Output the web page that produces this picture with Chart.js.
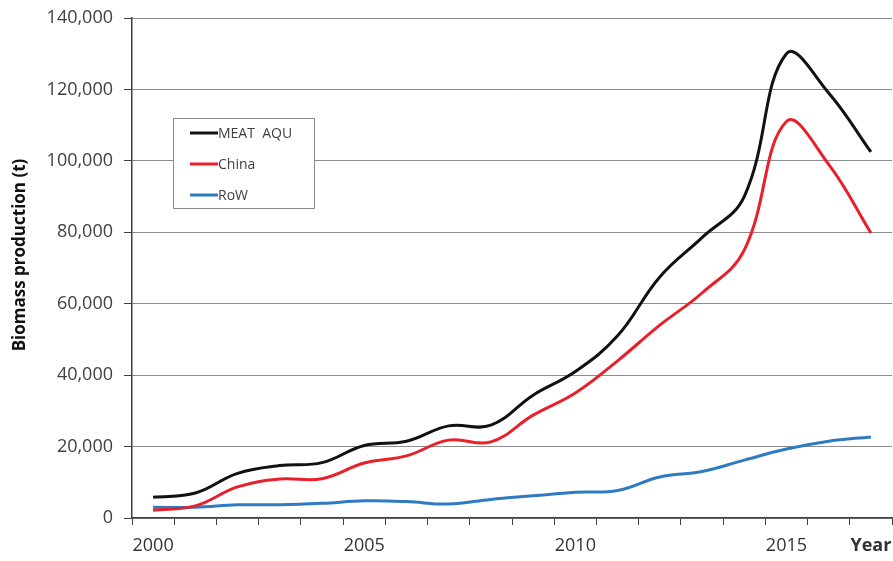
<!DOCTYPE html>
<html>
<head>
<meta charset="utf-8">
<script src="https://cdn.jsdelivr.net/npm/chart.js@4.4.1/dist/chart.umd.min.js"></script>
<style>
  html, body { margin: 0; padding: 0; background: #ffffff; }
  #wrap { width: 893px; height: 561px; position: relative; }
</style>
</head>
<body>
<div id="wrap"><canvas id="c" width="893" height="561"></canvas></div>
<script>
const years = [2000, 2001, 2002, 2003, 2004, 2005, 2006, 2007, 2008, 2009, 2010, 2011, 2012, 2013, 2014, 2015, 2016, 2017];
const xTickLabels = ['2000', '', '', '', '', '2005', '', '', '', '', '2010', '', '', '', '', '2015', '', 'Year'];
const meatAqu = [5800, 7000, 12500, 14700, 15500, 20300, 21500, 25800, 26000, 34400, 41000, 51000, 67500, 78500, 90000, 130000, 119000, 102500];
const china = [2200, 3400, 8700, 10900, 11000, 15400, 17400, 21800, 21300, 28800, 35000, 44000, 54000, 63000, 75000, 111000, 99000, 79800];
const row = [3000, 3000, 3700, 3700, 4100, 4800, 4600, 3900, 5200, 6200, 7200, 7700, 11500, 13000, 16200, 19300, 21500, 22700];
const yTicks = [0, 20000, 40000, 60000, 80000, 100000, 120000, 140000];
const seriesNames = ['MEAT  AQU', 'China', 'RoW'];
const seriesColors = ['#111111', '#e8202a', '#2e7bc0'];
const yTitle = 'Biomass production (t)';

const FONT = "'Open Sans', 'DejaVu Sans', sans-serif";

const legendPlugin = {
  id: 'boxLegend',
  afterDraw(chart) {
    const ctx = chart.ctx;
    // y-axis title
    ctx.save();
    ctx.translate(20, 255);
    ctx.rotate(-Math.PI / 2);
    ctx.font = 'bold 17px ' + FONT;
    ctx.fillStyle = '#111111';
    ctx.textAlign = 'center';
    ctx.textBaseline = 'middle';
    ctx.fillText(yTitle, 0, 0);
    ctx.restore();

    // legend box
    const x0 = 173, y0 = 118, w = 141, h = 90;
    ctx.save();
    ctx.fillStyle = '#ffffff';
    ctx.fillRect(x0, y0, w, h);
    ctx.strokeStyle = '#8a8a8a';
    ctx.lineWidth = 1;
    ctx.strokeRect(x0 + 0.5, y0 + 0.5, w, h);
    const rows = [133, 164, 195];
    ctx.font = '14px ' + FONT;
    ctx.textBaseline = 'middle';
    ctx.textAlign = 'left';
    seriesNames.forEach((name, i) => {
      ctx.strokeStyle = seriesColors[i];
      ctx.lineWidth = 3;
      ctx.beginPath();
      ctx.moveTo(190, rows[i]);
      ctx.lineTo(218, rows[i]);
      ctx.stroke();
      ctx.fillStyle = '#404040';
      ctx.fillText(name, 218, rows[i] + 1);
    });
    ctx.restore();
  }
};

const mk = (label, data, color) => ({
  label, data,
  borderColor: color,
  backgroundColor: color,
  borderWidth: 3,
  pointRadius: 0,
  tension: 0.4,
  fill: false
});

new Chart(document.getElementById('c'), {
  type: 'line',
  data: {
    labels: years,
    datasets: [
      mk(seriesNames[0], meatAqu, seriesColors[0]),
      mk(seriesNames[1], china, seriesColors[1]),
      mk(seriesNames[2], row, seriesColors[2])
    ]
  },
  options: {
    responsive: false,
    animation: false,
    devicePixelRatio: 1,
    layout: { padding: { top: 18, right: 1, left: 0, bottom: 0 } },
    plugins: {
      legend: { display: false },
      tooltip: { enabled: false },
      title: { display: false }
    },
    scales: {
      x: {
        type: 'category',
        offset: true,
        grid: {
          offset: true,
          drawOnChartArea: false,
          drawTicks: true,
          tickLength: 7,
          color: '#404040'
        },
        border: { color: '#404040', width: 1.5 },
        ticks: {
          autoSkip: false,
          maxRotation: 0,
          minRotation: 0,
          padding: 10,
          color: '#333333',
          font: (c) => ({
            family: FONT,
            size: 18,
            weight: (c.tick && c.tick.label === 'Year') ? 'bold' : 'normal'
          }),
          callback: (v, i) => xTickLabels[i]
        },
        afterFit: (s) => { s.height = 43; s.paddingLeft = 0; s.paddingRight = 0; }
      },
      y: {
        min: 0,
        max: 140000,
        afterBuildTicks: (s) => { s.ticks = yTicks.map(v => ({ value: v })); },
        grid: {
          color: '#8c8c8c',
          lineWidth: 1,
          drawTicks: true,
          tickLength: 8,
          tickColor: '#404040'
        },
        border: { color: '#404040', width: 1.5 },
        ticks: {
          padding: 11,
          color: '#404040',
          font: { family: FONT, size: 18 },
          callback: (v) => v.toLocaleString('en-US')
        },
        title: { display: false },
        afterFit: (s) => { s.width = 132; s.paddingTop = 0; s.paddingBottom = 0; }
      }
    }
  },
  plugins: [legendPlugin]
});
</script>
</body>
</html>
